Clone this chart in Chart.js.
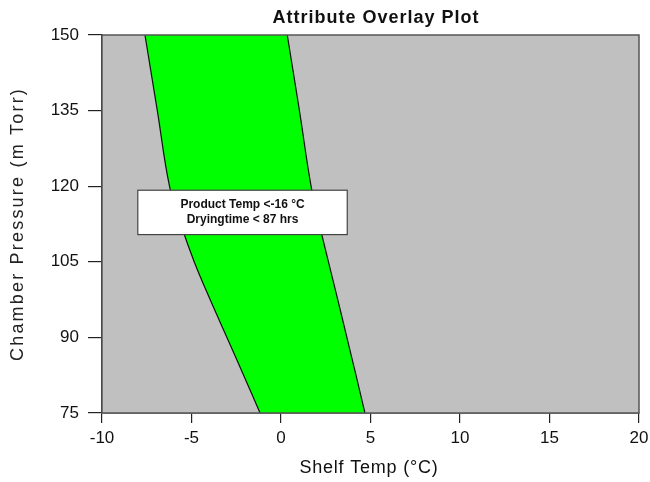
<!DOCTYPE html>
<html>
<head>
<meta charset="utf-8">
<title>Attribute Overlay Plot</title>
<script src="https://cdn.jsdelivr.net/npm/chart.js@4.4.1/dist/chart.umd.min.js"></script>
<style>
  html, body { margin: 0; padding: 0; background: #fff; }
  #wrap { width: 650px; height: 482px; }
</style>
</head>
<body>
<div id="wrap"><canvas id="chart" width="650" height="482"></canvas></div>
<script>
// Chamber pressure (mTorr) and the two edge curves of the design space (shelf temp, °C)
const pressure  = [75, 82.5, 90, 97.5, 105, 112.5, 120, 135, 150];
const lowerTemp = [-1.17, -2.09, -3.02, -3.96, -4.85, -5.6, -6.23, -6.91, -7.6];
const upperTemp = [4.69, 4.19, 3.68, 3.17, 2.65, 2.14, 1.68, 1.03, 0.35];

const xTicks = [-10, -5, 0, 5, 10, 15, 20];
const yTicks = [75, 90, 105, 120, 135, 150];

// text box: left/right in °C, top/bottom in mTorr
const boxLines = ['Product Temp <-16 °C', 'Dryingtime < 87 hrs'];
const boxEdges = [-8, 3.7, 119.2, 110.4];

const FONT = '"Liberation Sans", Arial, sans-serif';

function toPoints(temps){
  return pressure.map((p, i) => ({x: temps[i], y: p}));
}

// gray plot area, frame, note box and titles
const framePlugin = {
  id: 'frame',
  beforeDatasetsDraw(chart){
    const {ctx, chartArea: a} = chart;
    ctx.save();
    ctx.fillStyle = '#c0c0c0';
    ctx.fillRect(a.left, a.top, a.right - a.left, a.bottom - a.top);
    ctx.restore();
  },
  afterDatasetsDraw(chart){
    const {ctx, chartArea: a, scales} = chart;
    ctx.save();
    ctx.strokeStyle = '#555';
    ctx.lineWidth = 1.5;
    ctx.strokeRect(a.left, a.top, a.right - a.left, a.bottom - a.top);

    // note box
    const bl = scales.x.getPixelForValue(boxEdges[0]);
    const br = scales.x.getPixelForValue(boxEdges[1]);
    const bt = scales.y.getPixelForValue(boxEdges[2]);
    const bb = scales.y.getPixelForValue(boxEdges[3]);
    ctx.fillStyle = '#fff';
    ctx.fillRect(bl, bt, br - bl, bb - bt);
    ctx.strokeStyle = '#444';
    ctx.lineWidth = 1.2;
    ctx.strokeRect(bl, bt, br - bl, bb - bt);
    ctx.fillStyle = '#111';
    ctx.font = 'bold 12px ' + FONT;
    ctx.textAlign = 'center';
    ctx.textBaseline = 'middle';
    const cx = (bl + br) / 2, cy = (bt + bb) / 2;
    ctx.fillText(boxLines[0], cx, cy - 7.5);
    ctx.fillText(boxLines[1], cx, cy + 7.5);

    // chart title
    ctx.font = 'bold 18px ' + FONT;
    ctx.letterSpacing = '1px';
    ctx.fillText('Attribute Overlay Plot', 376, 18);

    // x axis title
    ctx.font = '18px ' + FONT;
    ctx.letterSpacing = '0.8px';
    ctx.fillText('Shelf Temp (°C)', 369, 468);

    // y axis title, widely spaced
    ctx.translate(18, 224);
    ctx.rotate(-Math.PI / 2);
    ctx.font = '18px ' + FONT;
    ctx.letterSpacing = '2.2px';
    ctx.fillStyle = '#222';
    ctx.fillText('Chamber Pressure (m Torr)', 0, 0);
    ctx.restore();
  }
};

new Chart(document.getElementById('chart'), {
  type: 'line',
  data: {
    datasets: [
      {
        label: 'lower',
        data: toPoints(lowerTemp),
        borderColor: '#111',
        borderWidth: 1.2,
        pointRadius: 0,
        tension: 0.4,
        fill: false
      },
      {
        label: 'upper',
        data: toPoints(upperTemp),
        borderColor: '#111',
        borderWidth: 1.2,
        backgroundColor: '#00ff00',
        pointRadius: 0,
        tension: 0.4,
        fill: '-1'
      }
    ]
  },
  options: {
    indexAxis: 'y',
    responsive: false,
    animation: false,
    layout: {padding: {top: 35, right: 0, left: 0, bottom: 0}},
    plugins: {
      legend: {display: false},
      tooltip: {enabled: false},
      title: {display: false}
    },
    scales: {
      x: {
        type: 'linear',
        position: 'bottom',
        min: xTicks[0],
        max: xTicks[xTicks.length - 1],
        afterBuildTicks: s => { s.ticks = xTicks.map(v => ({value: v})); },
        afterFit: s => { s.height = 69; s.paddingRight = 11; },
        ticks: {color: '#111', font: {family: FONT, size: 17}, padding: 5},
        grid: {drawOnChartArea: false, tickLength: 10, color: '#222', lineWidth: 1.2},
        border: {color: '#222', width: 1.5}
      },
      y: {
        type: 'linear',
        position: 'left',
        min: yTicks[0],
        max: yTicks[yTicks.length - 1],
        afterBuildTicks: s => { s.ticks = yTicks.map(v => ({value: v})); },
        afterFit: s => { s.width = 102; },
        ticks: {color: '#111', font: {family: FONT, size: 17}, padding: 9},
        grid: {drawOnChartArea: false, tickLength: 14, color: '#222', lineWidth: 1.2},
        border: {color: '#222', width: 1.5}
      }
    }
  },
  plugins: [framePlugin]
});
</script>
</body>
</html>
